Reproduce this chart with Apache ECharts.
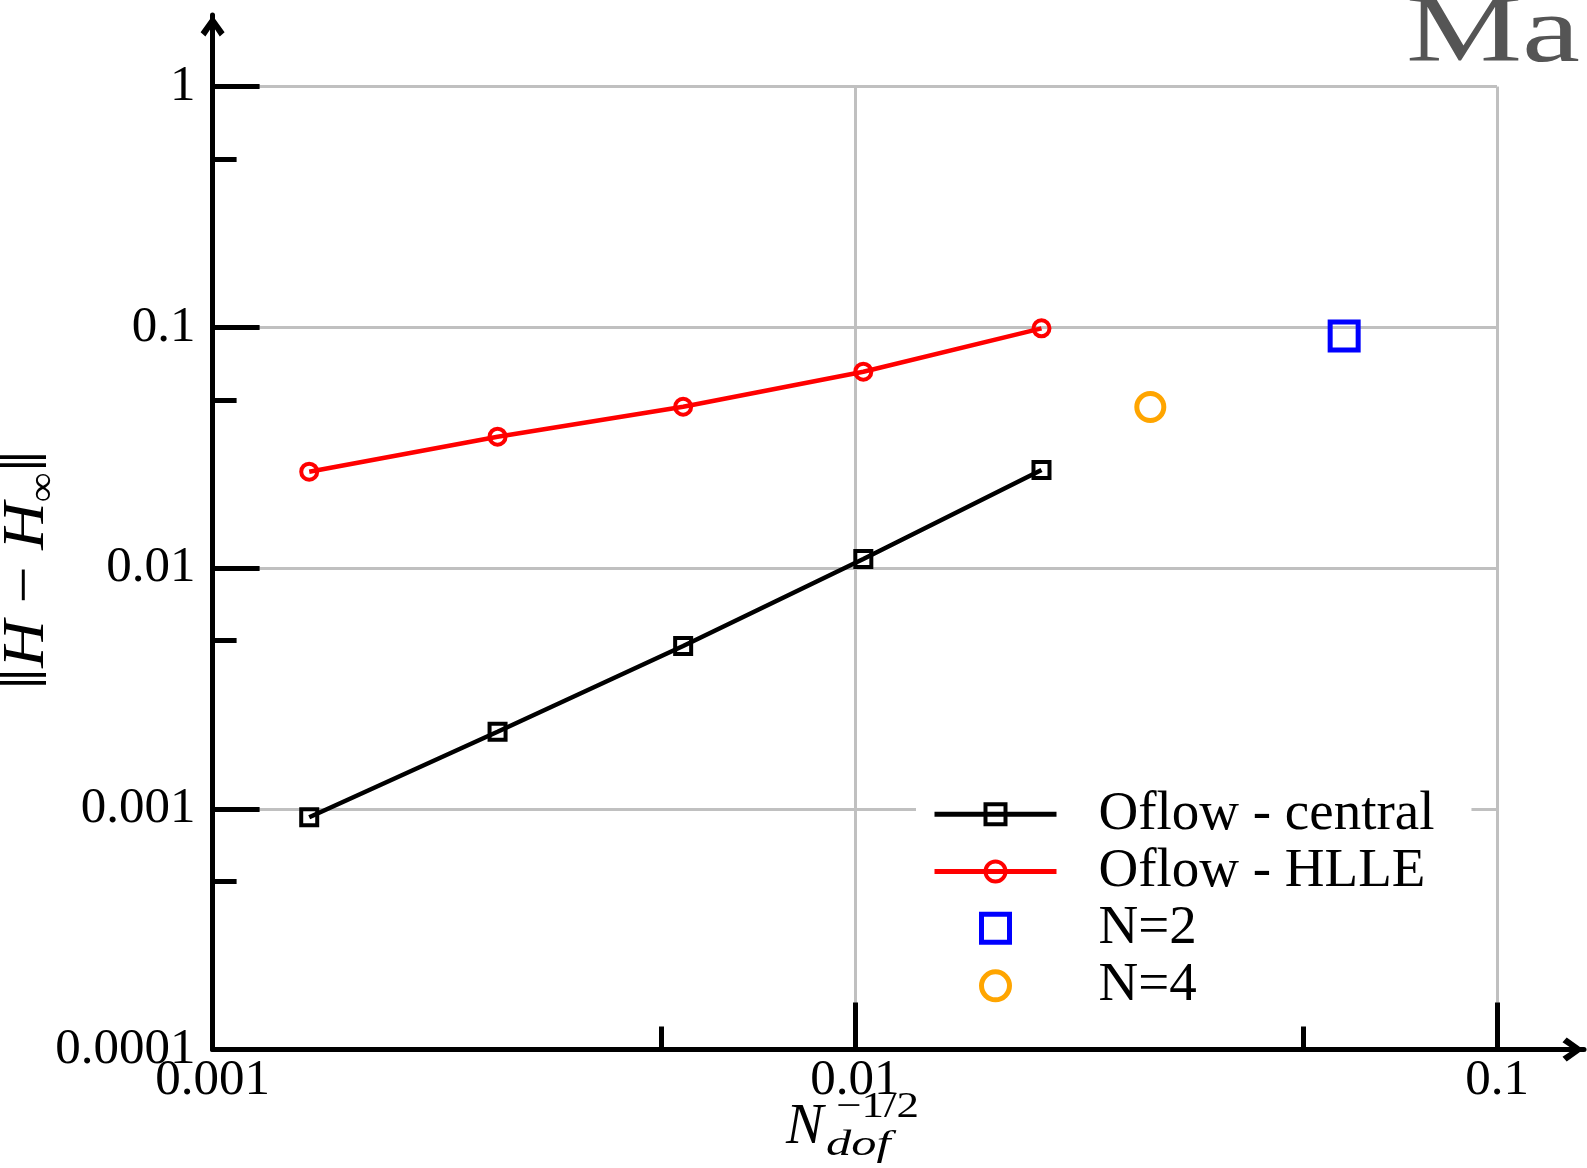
<!DOCTYPE html>
<html>
<head>
<meta charset="utf-8">
<script src="https://cdn.jsdelivr.net/npm/echarts@6/dist/echarts.min.js"></script>
<style>
html, body { margin: 0; padding: 0; background: #fff; }
#chart { width: 1587px; height: 1168px; }
</style>
</head>
<body>
<div id="chart"></div>
<script>
// ---- data ----
const nDofInvSqrt = [0.001414, 0.002778, 0.005404, 0.01031, 0.01953];
const errCentral  = [0.000922, 0.00209, 0.004746, 0.01091, 0.02556];
const errHLLE     = [0.02515, 0.03515, 0.04683, 0.06546, 0.09911];
const pointN2 = [0.05781, 0.0921];
const pointN4 = [0.02885, 0.04669];
const seriesNames = ['Oflow - central', 'Oflow - HLLE', 'N=2', 'N=4'];

const xTickValues = [0.001, 0.01, 0.1];
const xTickLabels = ['0.001', '0.01', '0.1'];
const xMinorTicks = [0.005, 0.05];
const yTickValues = [0.0001, 0.001, 0.01, 0.1, 1];
const yTickLabels = ['0.0001', '0.001', '0.01', '0.1', '1'];
const yMinorTicks = [0.0005, 0.005, 0.05, 0.5];

// ---- styling ----
const SERIF = '"Liberation Serif", "Times New Roman", serif';
const GRID = { left: 212.6, right: 90, top: 86.7, bottom: 118.5 };
const ARROW = 'path://M10,0 L20,14 L16,17.5 L10,8.5 L4,17.5 L0,14 Z';
const LEGEND_ROWS = [786.7, 844, 900.7, 958.3];

function lookup(vals, labels) {
  return function (v) {
    const i = vals.findIndex(t => Math.abs(Math.log10(t) - Math.log10(v)) < 1e-6);
    return i < 0 ? '' : labels[i];
  };
}
function majorTick() { return { show: true, inside: true, length: 47, lineStyle: { color: '#000', width: 5 } }; }
function gridLine() { return { show: true, lineStyle: { color: '#c0c0c0', width: 3 } }; }
function tickFont() { return { fontFamily: SERIF, fontSize: 51, color: '#000' }; }
function arrowLine() {
  return {
    show: true, onZero: false, symbol: ['none', ARROW], symbolSize: [24, 22], symbolOffset: [0, -11],
    lineStyle: { color: '#000', width: 5 }
  };
}
function legendText(padLeft) { return { fontFamily: SERIF, fontSize: 55, color: '#000', lineHeight: 50, padding: [0, 0, 0, padLeft] }; }
function lineLegend(name, top, extra) {
  return Object.assign({
    data: [name], orient: 'vertical', left: 932, top: top, padding: 0,
    itemWidth: 122, itemHeight: 25, itemStyle: { borderWidth: 4 }, lineStyle: { width: 5 },
    textStyle: legendText(37), selectedMode: false, z: 6
  }, extra || {});
}
function markLegend(name, top) {
  return {
    data: [name], orient: 'vertical', left: 979, top: top, padding: 0,
    itemWidth: 28, itemHeight: 28, itemStyle: { borderWidth: 5 },
    textStyle: legendText(84), selectedMode: false, z: 6
  };
}

const chart = echarts.init(document.getElementById('chart'), null, { renderer: 'canvas' });
chart.setOption({
  animation: false,
  backgroundColor: '#fff',
  grid: [
    Object.assign({ containLabel: false, outerBoundsMode: 'none' }, GRID),
    { left: GRID.left, right: 3, top: 15, bottom: GRID.bottom, containLabel: false, outerBoundsMode: 'none' }
  ],
  xAxis: [
    {
      gridIndex: 0, type: 'log', logBase: 10, position: 'bottom',
      min: xTickValues[0], max: xTickValues[xTickValues.length - 1],
      axisLine: { show: false, onZero: false }, axisTick: majorTick(),
      axisLabel: Object.assign({ show: true, margin: 6, formatter: lookup(xTickValues, xTickLabels) }, tickFont()),
      splitLine: gridLine(), minorTick: { show: false }, minorSplitLine: { show: false }
    },
    {
      gridIndex: 0, type: 'value', position: 'bottom',
      min: Math.log10(xTickValues[0]), max: Math.log10(xTickValues[xTickValues.length - 1]),
      axisLine: { show: false, onZero: false },
      axisTick: { show: true, inside: true, length: 23, customValues: xMinorTicks.map(Math.log10), lineStyle: { color: '#000', width: 5 } },
      axisLabel: { show: false }, splitLine: { show: false }
    },
    {
      gridIndex: 1, type: 'value', position: 'bottom', min: 0, max: 1,
      axisLine: arrowLine(), axisTick: { show: false }, axisLabel: { show: false }, splitLine: { show: false }, z: 10
    }
  ],
  yAxis: [
    {
      gridIndex: 0, type: 'log', logBase: 10, position: 'left',
      min: yTickValues[0], max: yTickValues[yTickValues.length - 1],
      axisLine: { show: false, onZero: false }, axisTick: majorTick(),
      axisLabel: Object.assign({ show: true, margin: 17, formatter: lookup(yTickValues, yTickLabels) }, tickFont()),
      splitLine: gridLine(), minorTick: { show: false }, minorSplitLine: { show: false }
    },
    {
      gridIndex: 0, type: 'value', position: 'left',
      min: Math.log10(yTickValues[0]), max: Math.log10(yTickValues[yTickValues.length - 1]),
      axisLine: { show: false, onZero: false },
      axisTick: { show: true, inside: true, length: 24, customValues: yMinorTicks.map(Math.log10), lineStyle: { color: '#000', width: 5 } },
      axisLabel: { show: false }, splitLine: { show: false }
    },
    {
      gridIndex: 1, type: 'value', position: 'left', min: 0, max: 1,
      axisLine: arrowLine(), axisTick: { show: false }, axisLabel: { show: false }, splitLine: { show: false }, z: 10
    }
  ],
  legend: [
    lineLegend(seriesNames[0], LEGEND_ROWS[0] - 12, { left: 916, padding: [12, 37, 12, 16], backgroundColor: '#fff', z: 5 }),
    lineLegend(seriesNames[1], LEGEND_ROWS[1]),
    markLegend(seriesNames[2], LEGEND_ROWS[2]),
    markLegend(seriesNames[3], LEGEND_ROWS[3])
  ],
  series: [
    {
      name: seriesNames[0], type: 'line', xAxisIndex: 0, yAxisIndex: 0,
      data: nDofInvSqrt.map((x, i) => [x, errCentral[i]]),
      symbol: 'rect', symbolSize: 16, showSymbol: true,
      lineStyle: { color: '#000', width: 4.5 },
      itemStyle: { color: 'transparent', borderColor: '#000', borderWidth: 4, opacity: 1 }, z: 3
    },
    {
      name: seriesNames[1], type: 'line', xAxisIndex: 0, yAxisIndex: 0,
      data: nDofInvSqrt.map((x, i) => [x, errHLLE[i]]),
      symbol: 'circle', symbolSize: 16, showSymbol: true,
      lineStyle: { color: '#ff0000', width: 4.5 },
      itemStyle: { color: 'transparent', borderColor: '#ff0000', borderWidth: 4, opacity: 1 }, z: 3
    },
    {
      name: seriesNames[2], type: 'scatter', xAxisIndex: 0, yAxisIndex: 0,
      data: [pointN2], symbol: 'rect', symbolSize: 28,
      itemStyle: { color: 'transparent', borderColor: '#0000ff', borderWidth: 5, opacity: 1 }, z: 3
    },
    {
      name: seriesNames[3], type: 'scatter', xAxisIndex: 0, yAxisIndex: 0,
      data: [pointN4], symbol: 'circle', symbolSize: 27,
      itemStyle: { color: 'transparent', borderColor: '#ffa500', borderWidth: 5, opacity: 1 }, z: 3
    }
  ],
  graphic: [
    {
      type: 'text', x: 1406, y: 36, scaleX: 1.36, silent: true,
      style: { text: 'Ma', font: '96px ' + SERIF, fill: '#555555', align: 'left', verticalAlign: 'middle' }
    },
    {
      type: 'text', x: 27, y: 570, rotation: Math.PI / 2, scaleX: 1.1, silent: true,
      style: {
        text: '{b|‖}{i|H}{r| − }{i|H}{s|∞}{b|‖}',
        align: 'center', verticalAlign: 'middle', fill: '#000',
        rich: {
          b: { fontFamily: SERIF, fontSize: 72, lineHeight: 72, fill: '#000' },
          i: { fontFamily: SERIF, fontSize: 60, fontStyle: 'italic', lineHeight: 72, fill: '#000' },
          r: { fontFamily: SERIF, fontSize: 60, lineHeight: 72, fill: '#000' },
          s: { fontFamily: SERIF, fontSize: 38, lineHeight: 34, verticalAlign: 'bottom', fill: '#000' }
        }
      }
    },
    {
      type: 'text', x: 786, y: 1128, silent: true,
      style: { text: 'N', font: 'italic 56px ' + SERIF, fill: '#000', align: 'left', verticalAlign: 'middle' }
    },
    {
      type: 'text', x: 836, y: 1108, scaleX: 1.25, silent: true,
      style: { text: '−1/2', font: '36px ' + SERIF, fill: '#000', align: 'left', verticalAlign: 'middle' }
    },
    {
      type: 'text', x: 826, y: 1146, scaleX: 1.4, silent: true,
      style: { text: 'dof', font: 'italic 36px ' + SERIF, fill: '#000', align: 'left', verticalAlign: 'middle' }
    }
  ]
});
</script>
</body>
</html>
